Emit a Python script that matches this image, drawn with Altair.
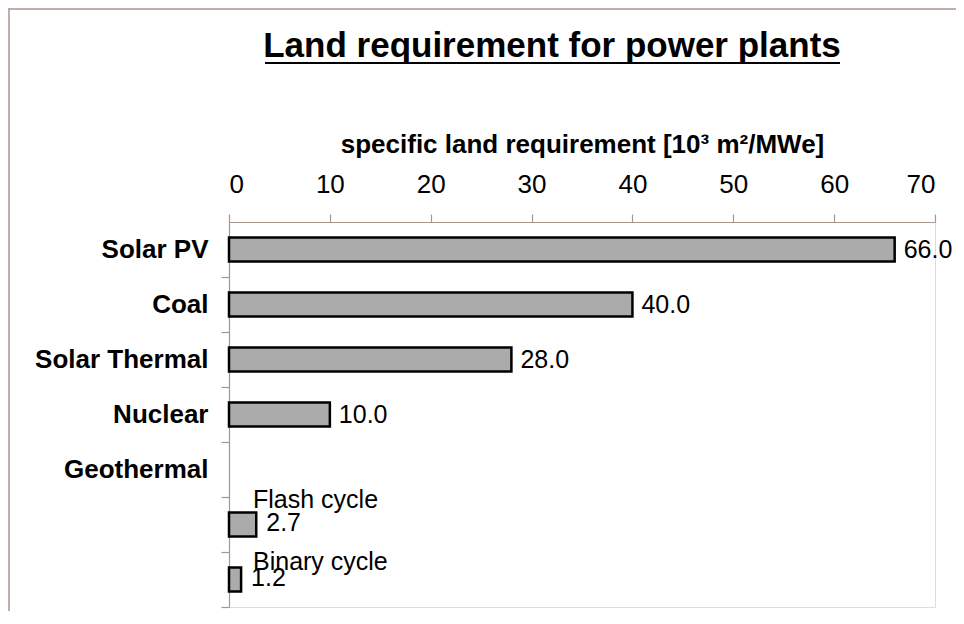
import altair as alt
import pandas as pd

title_text = "Land requirement for power plants"
categories = ["Solar PV", "Coal", "Solar Thermal", "Nuclear", "Geothermal", "Flash cycle", "Binary cycle"]
values = [66.0, 40.0, 28.0, 10.0, None, 2.7, 1.2]
main_cats = ["Solar PV", "Coal", "Solar Thermal", "Nuclear"]
sub_cats = ["Flash cycle", "Binary cycle"]
x_ticks = [0, 10, 20, 30, 40, 50, 60, 70]

df = pd.DataFrame({"cat": categories, "val": values})
df["label"] = df["val"].map(lambda v: "" if pd.isna(v) else f"{v:.1f}")

FONT = "Liberation Sans"
AX = "#a8968c"
BAND = 55

y_scale = alt.Scale(domain=categories, paddingInner=0, paddingOuter=0)

y_enc = alt.Y(
    "cat:N",
    sort=categories,
    scale=y_scale,
    axis=alt.Axis(
        title=None,
        labelExpr="indexof(['Flash cycle','Binary cycle'], datum.value) >= 0 ? '' : datum.value",
        labelFont=FONT, labelFontSize=26, labelFontWeight="bold", labelColor="black",
        labelPadding=13, tickSize=8, tickOffset=BAND / 2, labelOffset=-BAND / 2,
        domainColor=AX, tickColor=AX, domainWidth=1.2, tickWidth=1.2,
    ),
)

x_enc = alt.X(
    "val:Q",
    scale=alt.Scale(domain=[0, 70], nice=False),
    axis=alt.Axis(
        orient="top", values=x_ticks, format="d",
        title="specific land requirement [10³ m²/MWe]",
        titleFont=FONT, titleFontSize=26, titleFontWeight="bold", titleColor="black",
        titlePadding=14,
        labelFont=FONT, labelFontSize=26, labelColor="black", labelPadding=17,
        tickSize=8, domainColor=AX, tickColor=AX, domainWidth=1.2, tickWidth=1.2,
        grid=False,
    ),
)

base = alt.Chart(df)
y_plain = alt.Y("cat:N", sort=categories, scale=y_scale)

bars = base.transform_filter("isValid(datum.val)").mark_bar(
    size=24, fill="#ababab", stroke="black", strokeWidth=2.5
).encode(y=y_enc, x=x_enc)

main_labels = base.transform_filter(
    alt.FieldOneOfPredicate(field="cat", oneOf=main_cats)
).mark_text(align="left", baseline="middle", dx=9, font=FONT, fontSize=25, color="black").encode(
    y=y_plain, x="val:Q", text="label:N"
)

sub_values = base.transform_filter(
    alt.FieldOneOfPredicate(field="cat", oneOf=sub_cats)
).mark_text(align="left", baseline="middle", dx=10, dy=-2, font=FONT, fontSize=25, color="black").encode(
    y=y_plain, x="val:Q", text="label:N"
)

flash_name = base.transform_filter(alt.datum.cat == sub_cats[0]).mark_text(
    align="left", baseline="middle", dx=24, dy=-25, font=FONT, fontSize=25, color="black"
).encode(y=y_plain, x=alt.value(0), text="cat:N")

binary_name = base.transform_filter(alt.datum.cat == sub_cats[1]).mark_text(
    align="left", baseline="middle", dx=24, dy=-18, font=FONT, fontSize=25, color="black"
).encode(y=y_plain, x=alt.value(0), text="cat:N")

deco = alt.Chart(pd.DataFrame({"k": [0]}))
title_mark = deco.mark_text(
    text=title_text, font=FONT, fontSize=35, fontWeight="bold", color="black",
    align="center", baseline="alphabetic",
).encode(x=alt.value(323), y=alt.value(-165))
underline = deco.mark_rule(color="black", strokeWidth=2).encode(
    x=alt.value(36), x2=alt.value(611), y=alt.value(-159)
)
border_left = deco.mark_rule(color="#a8968c", strokeWidth=1.5).encode(
    x=alt.value(-220), y=alt.value(-214), y2=alt.value(402)
)
border_top = deco.mark_rule(color="#a8968c", strokeWidth=1.5).encode(
    y=alt.value(-213), x=alt.value(-220), x2=alt.value(735)
)

chart = alt.layer(
    bars, main_labels, sub_values, flash_name, binary_name,
    title_mark, underline, border_left, border_top
).properties(
    width=706, height=385,
    autosize="none",
    padding={"left": 221, "top": 214, "right": 21, "bottom": 4},
).configure_view(stroke=None).configure(background="white")

chart.save("out.html", embed_options={"renderer": "svg", "actions": False})
